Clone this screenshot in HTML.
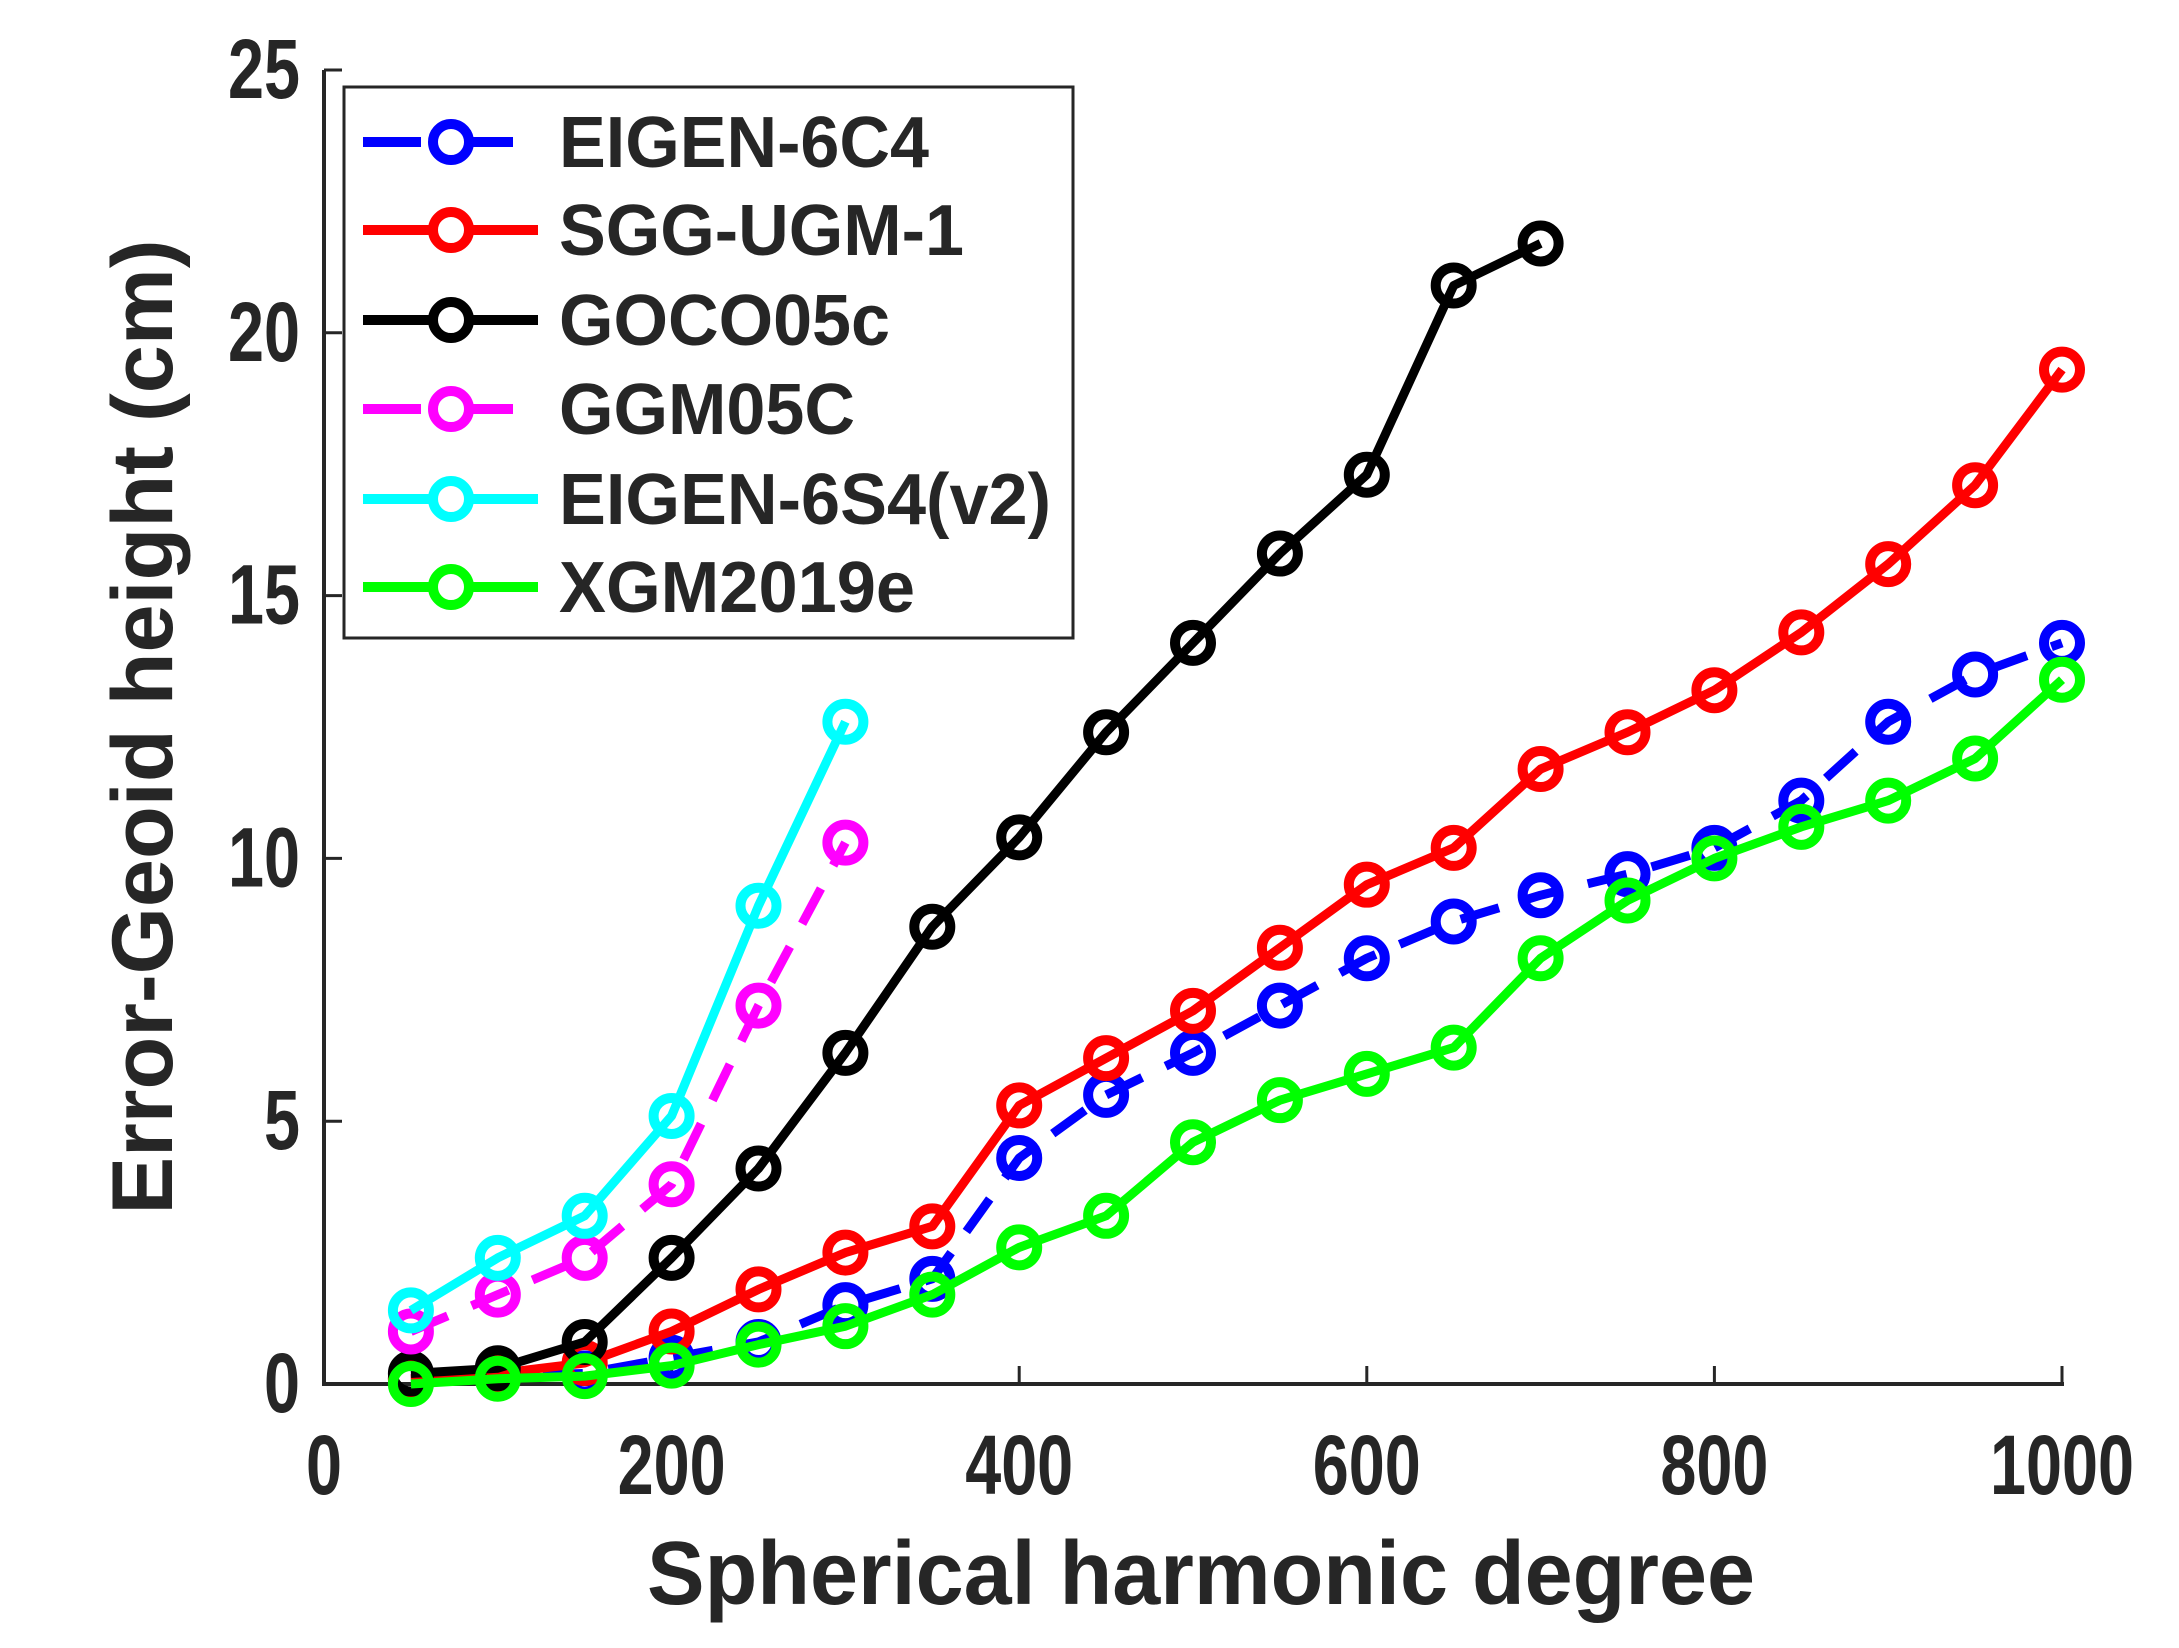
<!DOCTYPE html>
<html><head><meta charset="utf-8"><style>
html,body{margin:0;padding:0;background:#fff}
svg{display:block}
text{font-family:"Liberation Sans",Arial,sans-serif;font-weight:bold;fill:#262626}
</style></head><body>
<svg id="s" width="2179" height="1648" xmlns="http://www.w3.org/2000/svg">
<g id="axes" stroke="#262626" stroke-width="4" fill="none">
<line x1="324" y1="70" x2="324" y2="1384"/>
<line x1="322" y1="1384" x2="2064" y2="1384"/>
</g>
<g id="ticks" stroke="#262626" stroke-width="3"></g>
<g id="lbl"></g>
<g id="plot"></g>
<g id="leg"></g>
</svg>
<script>
const NS="http://www.w3.org/2000/svg";
const x0=324,x1=2062,y0=1384,y25=70;
const X=v=>x0+(x1-x0)*v/1000, Y=v=>y0+(y25-y0)*v/25;
function el(p,t,a,txt){const e=document.createElementNS(NS,t);for(const k in a)e.setAttribute(k,a[k]);if(txt!=null)e.textContent=txt;document.getElementById(p).appendChild(e);return e;}
for(let v=0;v<=1000;v+=200){const x=X(v);const s=String(v);el('ticks','line',{x1:x,y1:y0,x2:x,y2:y0-18});el('lbl','text',{x:x,y:1494,'font-size':84,'text-anchor':'middle',textLength:s.length*36,lengthAdjust:'spacingAndGlyphs'},s);}
for(let v=0;v<=25;v+=5){const y=Y(v);const s=String(v);el('ticks','line',{x1:x0,y1:y,x2:x0+18,y2:y});el('lbl','text',{x:300,y:y+28,'font-size':84,'text-anchor':'end',textLength:s.length*36,lengthAdjust:'spacingAndGlyphs'},s);}
el('lbl','text',{x:1201,y:1604,'font-size':90,'text-anchor':'middle',textLength:1108,lengthAdjust:'spacingAndGlyphs'},'Spherical harmonic degree');
el('lbl','text',{x:0,y:0,'font-size':86,'text-anchor':'middle',transform:'translate(172,727) rotate(-90)',textLength:975,lengthAdjust:'spacingAndGlyphs'},'Error-Geoid height (cm)');
const xs=[50,100,150,200,250,300,350,400,450,500,550,600,650,700,750,800,850,900,950,1000];
const S=[
 ['#0000ff',true,[0.1,0.15,0.2,0.5,0.8,1.5,2.0,4.3,5.5,6.3,7.2,8.1,8.8,9.3,9.7,10.2,11.1,12.6,13.5,14.1],'EIGEN-6C4',370],
 ['#ff0000',false,[0.1,0.2,0.4,1.0,1.8,2.5,3.0,5.3,6.2,7.1,8.3,9.5,10.2,11.7,12.4,13.2,14.3,15.6,17.1,19.3],'SGG-UGM-1',405],
 ['#000000',false,[0.2,0.3,0.8,2.4,4.1,6.3,8.7,10.4,12.4,14.1,15.8,17.3,20.9,21.7],'GOCO05c',331],
 ['#ff00ff',true,[1.0,1.7,2.4,3.8,7.2,10.3],'GGM05C',296],
 ['#00ffff',false,[1.4,2.4,3.2,5.1,9.1,12.6],'EIGEN-6S4(v2)',492],
 ['#00ff00',false,[0.0,0.1,0.15,0.35,0.75,1.1,1.7,2.6,3.2,4.6,5.4,5.9,6.4,8.1,9.2,10.0,10.6,11.1,11.9,13.4],'XGM2019e',356]
];
S.forEach(([c,d,ys])=>{
 const pts=ys.map((v,i)=>X(xs[i])+','+Y(v)).join(' ');
 const a={points:pts,fill:'none',stroke:c,'stroke-width':9,'stroke-linejoin':'round'};
 if(d)a['stroke-dasharray']='40 26';
 el('plot','polyline',a);
 ys.forEach((v,i)=>el('plot','circle',{cx:X(xs[i]),cy:Y(v),r:18,fill:'none',stroke:c,'stroke-width':10}));
});
el('leg','rect',{x:344,y:87,width:729,height:551,fill:'#fff',stroke:'#262626','stroke-width':3});
const ry=[142,230,320,409,499,587];
S.forEach(([c,d,ys,n,w],i)=>{
 const y=ry[i];
 const a={x1:363,y1:y,x2:d?513:538,y2:y,stroke:c,'stroke-width':10};
 if(d)a['stroke-dasharray']='58 34';
 el('leg','line',a);
 el('leg','circle',{cx:451,cy:y,r:18,fill:'#fff',stroke:c,'stroke-width':10});
 el('leg','text',{x:559,y:y+25,'font-size':72,fill:'#000',textLength:w,lengthAdjust:'spacingAndGlyphs'},n);
});
</script>
</body></html>
